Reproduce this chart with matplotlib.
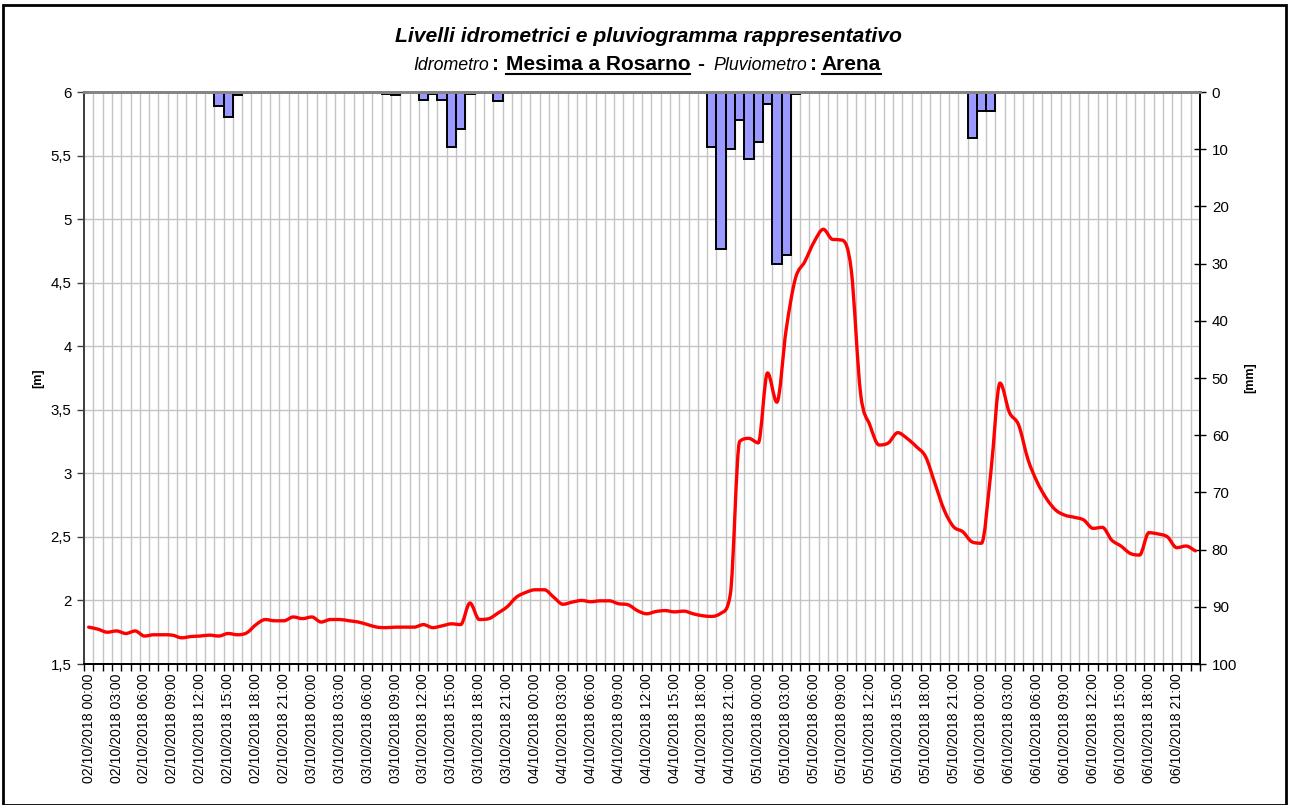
import numpy as np
import pandas as pd
import matplotlib
matplotlib.use("Agg")
import matplotlib.pyplot as plt
from matplotlib.path import Path
from matplotlib.patches import PathPatch, Rectangle
from matplotlib.lines import Line2D
from matplotlib.ticker import FixedLocator, FuncFormatter

plt.rcParams['font.family'] = ['Liberation Sans', 'DejaVu Sans']

# Hourly time axis: 02/10/2018 00:00 -> 06/10/2018 23:00
times = pd.date_range("2018-10-02 00:00", periods=120, freq="h")
time_labels = [t.strftime("%d/%m/%Y %H:%M") for t in times]

# Water level at the gauge [m]
level = [
    1.79, 1.774, 1.75, 1.76, 1.74, 1.76, 1.72, 1.73, 1.73, 1.727,
    1.706, 1.716, 1.72, 1.727, 1.72, 1.74, 1.73, 1.745, 1.81, 1.85,
    1.84, 1.84, 1.87, 1.857, 1.87, 1.83, 1.85, 1.85, 1.84, 1.83,
    1.81, 1.79, 1.786, 1.79, 1.79, 1.79, 1.81, 1.786, 1.80, 1.816,
    1.81, 1.98, 1.85, 1.856, 1.90, 1.95, 2.026, 2.063, 2.084, 2.084,
    2.026, 1.97, 1.987, 2.0, 1.99, 1.997, 1.997, 1.974, 1.966, 1.92,
    1.895, 1.913, 1.92, 1.91, 1.916, 1.895, 1.88, 1.874, 1.90, 2.05,
    3.25, 3.275, 3.24, 3.79, 3.56, 4.13, 4.534, 4.665, 4.82, 4.92,
    4.84, 4.835, 4.6, 3.63, 3.38, 3.223, 3.24, 3.32, 3.275, 3.21,
    3.13, 2.92, 2.71, 2.58, 2.54, 2.46, 2.45, 3.0, 3.71, 3.48,
    3.38, 3.11, 2.93, 2.80, 2.71, 2.67, 2.654, 2.633, 2.567, 2.575,
    2.475, 2.428, 2.37, 2.357, 2.533, 2.523, 2.50, 2.415, 2.428, 2.39,
]

# Hourly rainfall [mm] (non-zero hours listed by index)
rain_hours = [14, 15, 16, 17, 32, 33, 36, 37, 38, 39, 40, 41, 42, 44, 45,
              67, 68, 69, 70, 71, 72, 73, 74, 75, 76, 95, 96, 97]
rain_mm = [2.4, 4.4, 0.6, 0.2, 0.3, 0.5, 1.4, 0.3, 1.4, 9.7, 6.5, 0.4, 0.25, 1.5, 0.15,
           9.7, 27.5, 10.0, 4.9, 11.7, 8.7, 2.1, 30.1, 28.5, 0.35, 8.0, 3.4, 3.4]
rain = [0.0] * len(times)
for h, v in zip(rain_hours, rain_mm):
    rain[h] = v

level_ticks = [1.5, 2.0, 2.5, 3.0, 3.5, 4.0, 4.5, 5.0, 5.5, 6.0]
rain_ticks = list(range(0, 101, 10))

W, H = 1289, 805
fig = plt.figure(figsize=(W / 100, H / 100), dpi=100)
fig.patch.set_facecolor("white")

ax = fig.add_axes([84 / W, 1 - 664 / H, 1116 / W, 572 / H])
ax2 = ax.twinx()
# rain axis underneath, level axis on top with transparent background
ax2.set_zorder(1)
ax.set_zorder(2)
ax.patch.set_visible(False)
ax2.patch.set_visible(True)
ax2.patch.set_facecolor("white")

n = len(times)
x = np.arange(n)
ax.set_xlim(-0.5, n - 0.5)
ax.set_ylim(1.5, 6)
ax2.set_ylim(100, 0)

grid_c = "#c4c4c4"
# vertical grid at hour boundaries, horizontal grid at level ticks
ax2.vlines(np.arange(0.5, n - 0.5, 1), 0, 100, color=grid_c, lw=1.0, zorder=0)
ax2.hlines(level_ticks, -0.5, n - 0.5, color=grid_c, lw=1.0, zorder=0,
           transform=ax.transData)

# rainfall bars hanging from the top
ax2.bar(x, rain, width=1.0, bottom=0, color="#9999ff", edgecolor="black",
        linewidth=1.4, zorder=2)

# smoothed level curve: cubic Bezier segments through every reading,
# tangents limited (Fritsch-Carlson) so the curve does not overshoot
y = np.asarray(level, dtype=float)
d = np.diff(y)
m = np.empty(n)
m[0], m[-1] = d[0], d[-1]
m[1:-1] = (d[:-1] + d[1:]) / 2.0
for k in range(1, n - 1):
    if d[k - 1] * d[k] <= 0:
        m[k] = 0.0
for k in range(n - 1):
    if d[k] == 0:
        m[k] = m[k + 1] = 0.0
        continue
    a, b = m[k] / d[k], m[k + 1] / d[k]
    s = a * a + b * b
    if s > 9:
        t = 3.0 / np.sqrt(s)
        m[k] = t * a * d[k]
        m[k + 1] = t * b * d[k]
verts = [(x[0], y[0])]
codes = [Path.MOVETO]
for k in range(n - 1):
    verts += [(x[k] + 1 / 3, y[k] + m[k] / 3),
              (x[k + 1] - 1 / 3, y[k + 1] - m[k + 1] / 3),
              (x[k + 1], y[k + 1])]
    codes += [Path.CURVE4] * 3
ax.add_patch(PathPatch(Path(verts, codes), fill=False, edgecolor="#ff0000",
                       lw=2.4, capstyle="round", joinstyle="round", zorder=3))

# x axis: labels every 3 hours centred on categories, ticks at boundaries
ax.xaxis.set_major_locator(FixedLocator(list(range(0, n, 3))))
ax.set_xticklabels(time_labels[::3], rotation=90, fontsize=10.2)
ax.xaxis.set_minor_locator(FixedLocator(np.arange(-0.5, n, 1)))
ax.tick_params(axis="x", which="major", length=0, pad=7)
ax.tick_params(axis="x", which="minor", length=5, width=1, color="black",
               direction="out")

comma = FuncFormatter(lambda v, p: ("%g" % v).replace(".", ","))
ax.yaxis.set_major_locator(FixedLocator(level_ticks))
ax.yaxis.set_major_formatter(comma)
ax.tick_params(axis="y", which="major", length=5, width=1, color="#404040",
               labelsize=10.8, pad=4)

ax2.yaxis.set_major_locator(FixedLocator(rain_ticks))
ax2.tick_params(axis="y", which="major", length=9, width=1, color="black",
                direction="inout", labelsize=10.8, pad=4)

for a in (ax, ax2):
    a.spines["top"].set_color("#858585")
    a.spines["top"].set_linewidth(2.0)
    a.spines["left"].set_color("#404040")
    a.spines["left"].set_linewidth(1.3)
    a.spines["right"].set_color("black")
    a.spines["right"].set_linewidth(1.3)
    a.spines["bottom"].set_color("black")
    a.spines["bottom"].set_linewidth(1.3)

fig.text(38 / W, 1 - 378 / H, "[m]", rotation=90, fontsize=9, fontweight="bold",
         ha="center", va="center")
fig.text(1250 / W, 1 - 378 / H, "[mm]", rotation=90, fontsize=9, fontweight="bold",
         ha="center", va="center")

# title
fig.text(648 / W, 1 - 36 / H,
         "Livelli idrometrici e pluviogramma rappresentativo",
         fontsize=15.2, fontweight="bold", fontstyle="italic",
         ha="center", va="center")

# subtitle made of differently styled pieces, laid out left to right
# (text, style, underlined, extra gap in pixels before the piece)
small = dict(fontsize=12.8, fontstyle="italic")
bold = dict(fontsize=15, fontweight="bold")
pieces = [
    ("Idrometro", small, False, 0),
    (":", bold, False, 3),
    ("Mesima a Rosarno", bold, True, 7),
    ("-", bold, False, 7),
    ("Pluviometro", small, False, 9),
    (":", bold, False, 3),
    ("Arena", bold, True, 5),
]
renderer = fig.canvas.get_renderer()
base_y = 1 - 70 / H
objs = []
total = 0.0
for txt, kw, ul, gap in pieces:
    t = fig.text(0, base_y, txt, ha="left", va="baseline", **kw)
    w = t.get_window_extent(renderer).width
    objs.append((t, w, ul, gap))
    total += w + gap
xpix = 647 - total / 2
for t, w, ul, gap in objs:
    xpix += gap
    t.set_x(xpix / W)
    if ul:
        fig.add_artist(Line2D([xpix / W, (xpix + w) / W],
                              [base_y - 4 / H, base_y - 4 / H],
                              color="black", lw=1.5, transform=fig.transFigure))
    xpix += w

# outer frame
fig.add_artist(Rectangle((3 / W, 0), (W - 6) / W, (H - 5) / H, fill=False,
                         edgecolor="black", lw=2.0, transform=fig.transFigure))

fig.savefig("out.png", dpi=100)
